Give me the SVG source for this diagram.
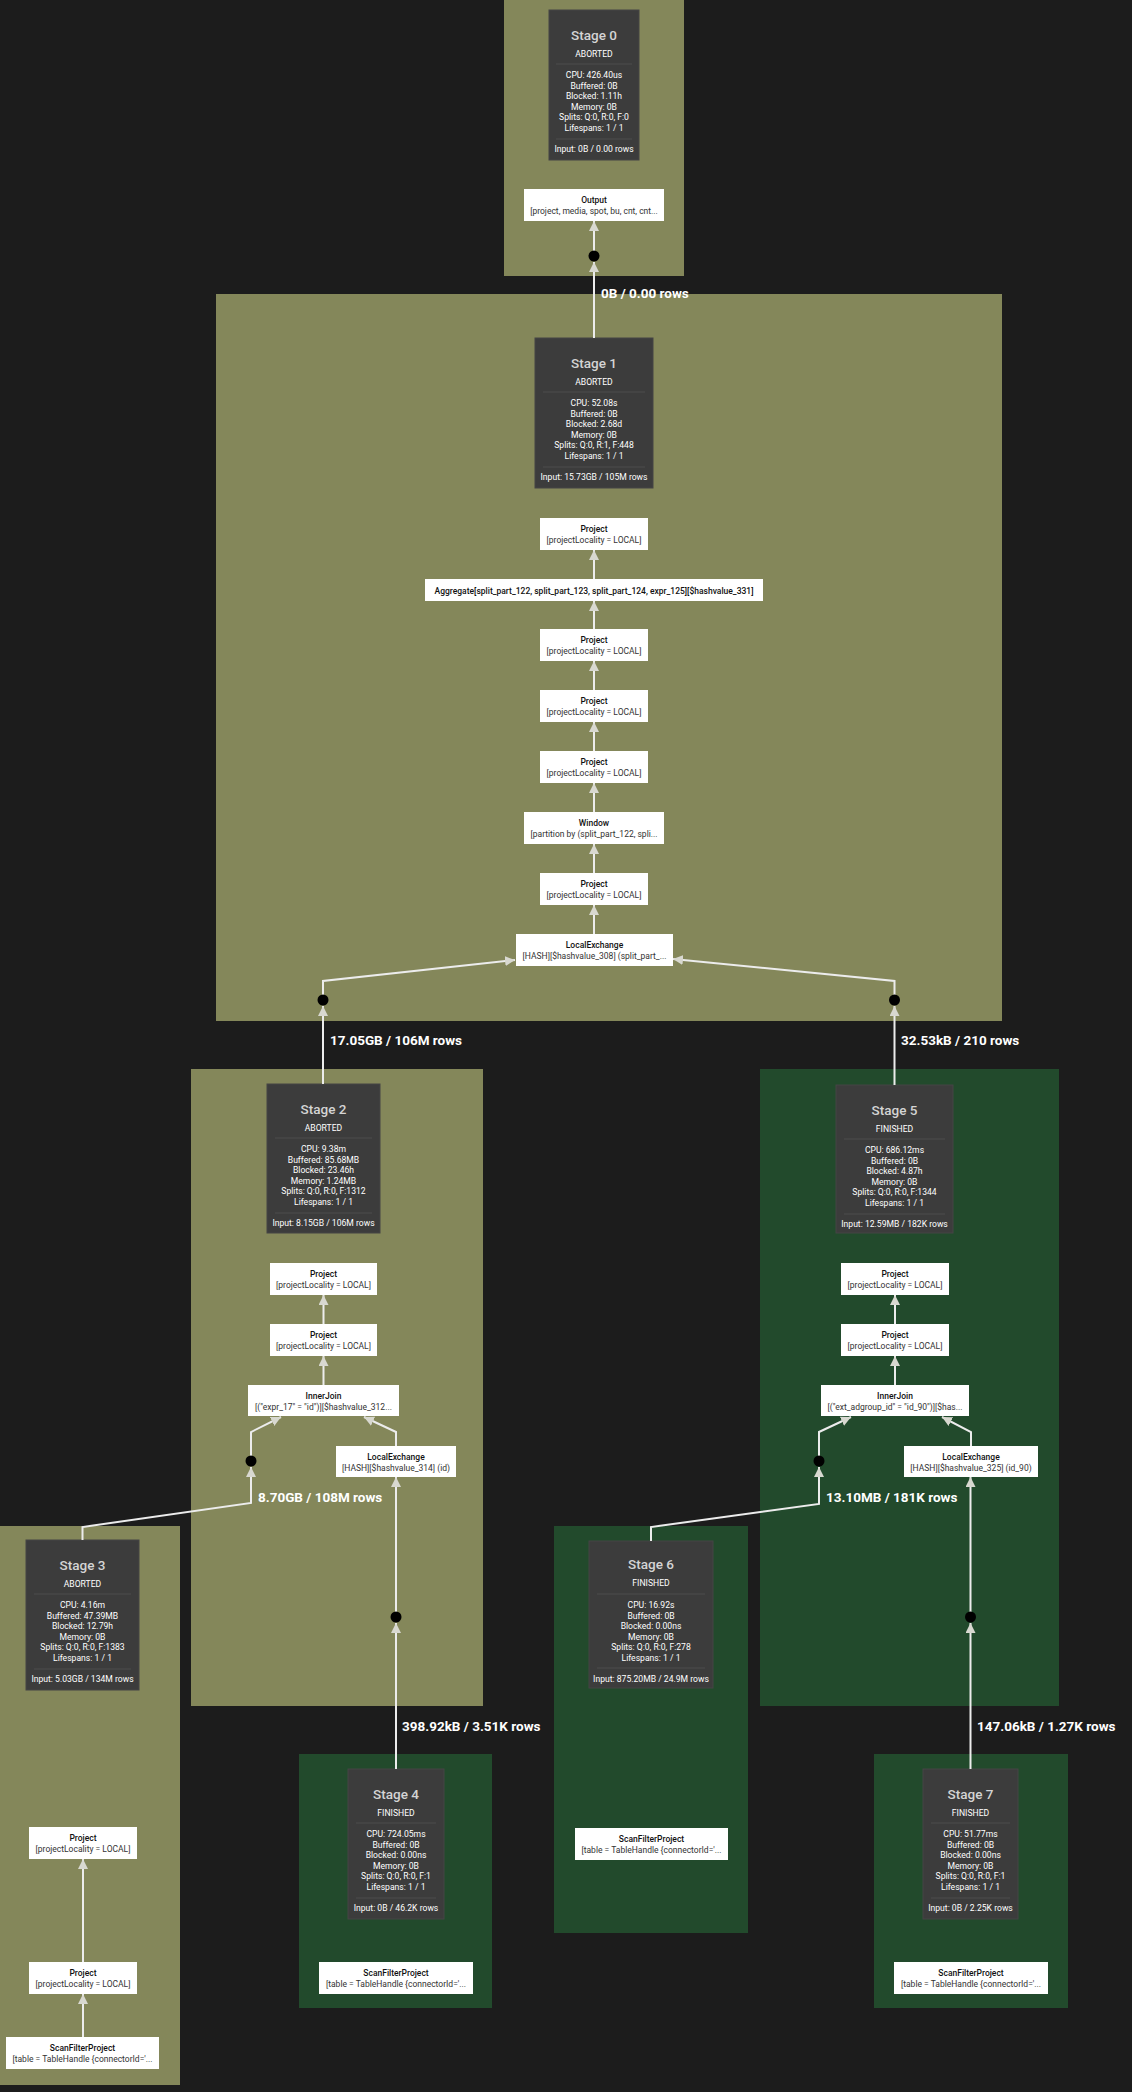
<svg xmlns="http://www.w3.org/2000/svg" width="1132" height="2092" viewBox="0 0 1132 2092">
<defs>
<style>
.bg{fill:#1c1c1c}
.ab{fill:#84875a}
.fi{fill:#224a2c}
.sb{fill:#3c3c3c;stroke:#454545;stroke-width:1}
.dv{stroke:#4c4c4c;stroke-width:1}
.st{font-family:Roboto,"Liberation Sans",sans-serif;font-size:13.5px;font-weight:500;fill:#d4d4d4;text-anchor:middle}
.ss{font-family:Roboto,"Liberation Sans",sans-serif;font-size:8.6px;fill:#ffffff;text-anchor:middle}
.nb{fill:#ffffff}
.nt{font-family:Roboto,"Liberation Sans",sans-serif;font-size:8.5px;font-weight:500;fill:#111;text-anchor:middle}
.nd{font-family:Roboto,"Liberation Sans",sans-serif;font-size:8.5px;fill:#333;text-anchor:middle}
.e{fill:none;stroke:#ececec;stroke-width:2;marker-end:url(#ah)}
.dot{fill:#000}
.el{font-family:Roboto,"Liberation Sans",sans-serif;font-size:13.5px;font-weight:700;fill:#ffffff}
</style>
<marker id="ah" viewBox="0 0 10 10" refX="10" refY="5" markerWidth="10" markerHeight="10" markerUnits="userSpaceOnUse" orient="auto">
<path d="M0,0 L10,5 L0,10 z" fill="#d8d8d0"/>
</marker>
</defs>
<rect class="bg" x="0" y="0" width="1132" height="2092"/>

<g id="stage0">
<rect class="ab" x="504" y="0" width="180" height="276"/>
<g id="stage0-box">
<rect class="sb" x="549" y="10" width="90" height="150"/>
<line class="dv" x1="556" y1="64" x2="632" y2="64"/><line class="dv" x1="556" y1="139" x2="632" y2="139"/>
<text class="st" x="594" y="40">Stage 0</text>
<text class="ss" x="594" y="57">ABORTED</text>
<text class="ss" x="594" y="78">CPU: 426.40us</text>
<text class="ss" x="594" y="88.6">Buffered: 0B</text>
<text class="ss" x="594" y="99.2">Blocked: 1.11h</text>
<text class="ss" x="594" y="109.8">Memory: 0B</text>
<text class="ss" x="594" y="120.4">Splits: Q:0, R:0, F:0</text>
<text class="ss" x="594" y="131">Lifespans: 1 / 1</text>
<text class="ss" x="594" y="152">Input: 0B / 0.00 rows</text>
</g>
<g id="s0-output"><rect class="nb" x="524" y="189" width="140" height="32"/><text class="nt" x="594" y="203">Output</text><text class="nd" x="594" y="213.5">[project, media, spot, bu, cnt, cnt...</text></g>
</g>

<g id="stage1">
<rect class="ab" x="216" y="294" width="786" height="727"/>
<g id="stage1-box">
<rect class="sb" x="535" y="338" width="118" height="150"/>
<line class="dv" x1="543" y1="392" x2="645" y2="392"/><line class="dv" x1="543" y1="467" x2="645" y2="467"/>
<text class="st" x="594" y="368">Stage 1</text>
<text class="ss" x="594" y="385">ABORTED</text>
<text class="ss" x="594" y="406">CPU: 52.08s</text>
<text class="ss" x="594" y="416.6">Buffered: 0B</text>
<text class="ss" x="594" y="427.2">Blocked: 2.68d</text>
<text class="ss" x="594" y="437.8">Memory: 0B</text>
<text class="ss" x="594" y="448.4">Splits: Q:0, R:1, F:448</text>
<text class="ss" x="594" y="459">Lifespans: 1 / 1</text>
<text class="ss" x="594" y="480">Input: 15.73GB / 105M rows</text>
</g>
<g id="s1-project1"><rect class="nb" x="540" y="518" width="108" height="32"/><text class="nt" x="594" y="532">Project</text><text class="nd" x="594" y="542.5">[projectLocality = LOCAL]</text></g>
<g id="s1-aggregate"><rect class="nb" x="425" y="579" width="338" height="22"/><text class="nt" x="594" y="593.5">Aggregate[split_part_122, split_part_123, split_part_124, expr_125][$hashvalue_331]</text></g>
<g id="s1-project2"><rect class="nb" x="540" y="629" width="108" height="32"/><text class="nt" x="594" y="643">Project</text><text class="nd" x="594" y="653.5">[projectLocality = LOCAL]</text></g>
<g id="s1-project3"><rect class="nb" x="540" y="690" width="108" height="32"/><text class="nt" x="594" y="704">Project</text><text class="nd" x="594" y="714.5">[projectLocality = LOCAL]</text></g>
<g id="s1-project4"><rect class="nb" x="540" y="751" width="108" height="32"/><text class="nt" x="594" y="765">Project</text><text class="nd" x="594" y="775.5">[projectLocality = LOCAL]</text></g>
<g id="s1-window"><rect class="nb" x="524" y="812" width="140" height="32"/><text class="nt" x="594" y="826">Window</text><text class="nd" x="594" y="836.5">[partition by (split_part_122, spli...</text></g>
<g id="s1-project5"><rect class="nb" x="540" y="873" width="108" height="32"/><text class="nt" x="594" y="887">Project</text><text class="nd" x="594" y="897.5">[projectLocality = LOCAL]</text></g>
<g id="s1-localexchange"><rect class="nb" x="516" y="934" width="157" height="32"/><text class="nt" x="594.5" y="948">LocalExchange</text><text class="nd" x="594.5" y="958.5">[HASH][$hashvalue_308] (split_part_...</text></g>
</g>

<g id="stage2">
<rect class="ab" x="191" y="1069" width="292" height="637"/>
<g id="stage2-box">
<rect class="sb" x="267" y="1084" width="113" height="149"/>
<line class="dv" x1="275" y1="1138" x2="372" y2="1138"/><line class="dv" x1="275" y1="1213" x2="372" y2="1213"/>
<text class="st" x="323.5" y="1114">Stage 2</text>
<text class="ss" x="323.5" y="1131">ABORTED</text>
<text class="ss" x="323.5" y="1152">CPU: 9.38m</text>
<text class="ss" x="323.5" y="1162.6">Buffered: 85.68MB</text>
<text class="ss" x="323.5" y="1173.2">Blocked: 23.46h</text>
<text class="ss" x="323.5" y="1183.8">Memory: 1.24MB</text>
<text class="ss" x="323.5" y="1194.4">Splits: Q:0, R:0, F:1312</text>
<text class="ss" x="323.5" y="1205">Lifespans: 1 / 1</text>
<text class="ss" x="323.5" y="1226">Input: 8.15GB / 106M rows</text>
</g>
<g id="s2-project1"><rect class="nb" x="270" y="1263" width="107" height="32"/><text class="nt" x="323.5" y="1277">Project</text><text class="nd" x="323.5" y="1287.5">[projectLocality = LOCAL]</text></g>
<g id="s2-project2"><rect class="nb" x="270" y="1324" width="107" height="32"/><text class="nt" x="323.5" y="1338">Project</text><text class="nd" x="323.5" y="1348.5">[projectLocality = LOCAL]</text></g>
<g id="s2-innerjoin"><rect class="nb" x="248" y="1385" width="151" height="31"/><text class="nt" x="323.5" y="1399">InnerJoin</text><text class="nd" x="323.5" y="1409.5">[("expr_17" = "id")][$hashvalue_312...</text></g>
<g id="s2-localexchange"><rect class="nb" x="336" y="1446" width="120" height="31"/><text class="nt" x="396" y="1460">LocalExchange</text><text class="nd" x="396" y="1470.5">[HASH][$hashvalue_314] (id)</text></g>
</g>

<g id="stage5">
<rect class="fi" x="760" y="1069" width="299" height="637"/>
<g id="stage5-box">
<rect class="sb" x="836" y="1085" width="117" height="148"/>
<line class="dv" x1="844" y1="1139" x2="945" y2="1139"/><line class="dv" x1="844" y1="1214" x2="945" y2="1214"/>
<text class="st" x="894.5" y="1115">Stage 5</text>
<text class="ss" x="894.5" y="1132">FINISHED</text>
<text class="ss" x="894.5" y="1153">CPU: 686.12ms</text>
<text class="ss" x="894.5" y="1163.6">Buffered: 0B</text>
<text class="ss" x="894.5" y="1174.2">Blocked: 4.87h</text>
<text class="ss" x="894.5" y="1184.8">Memory: 0B</text>
<text class="ss" x="894.5" y="1195.4">Splits: Q:0, R:0, F:1344</text>
<text class="ss" x="894.5" y="1206">Lifespans: 1 / 1</text>
<text class="ss" x="894.5" y="1227">Input: 12.59MB / 182K rows</text>
</g>
<g id="s5-project1"><rect class="nb" x="841" y="1263" width="108" height="32"/><text class="nt" x="895" y="1277">Project</text><text class="nd" x="895" y="1287.5">[projectLocality = LOCAL]</text></g>
<g id="s5-project2"><rect class="nb" x="841" y="1324" width="108" height="32"/><text class="nt" x="895" y="1338">Project</text><text class="nd" x="895" y="1348.5">[projectLocality = LOCAL]</text></g>
<g id="s5-innerjoin"><rect class="nb" x="821" y="1385" width="148" height="31"/><text class="nt" x="895" y="1399">InnerJoin</text><text class="nd" x="895" y="1409.5">[("ext_adgroup_id" = "id_90")][$has...</text></g>
<g id="s5-localexchange"><rect class="nb" x="904" y="1446" width="134" height="31"/><text class="nt" x="971" y="1460">LocalExchange</text><text class="nd" x="971" y="1470.5">[HASH][$hashvalue_325] (id_90)</text></g>
</g>

<g id="stage3">
<rect class="ab" x="0" y="1526" width="180" height="559"/>
<g id="stage3-box">
<rect class="sb" x="26" y="1540" width="113" height="150"/>
<line class="dv" x1="34" y1="1594" x2="131" y2="1594"/><line class="dv" x1="34" y1="1669" x2="131" y2="1669"/>
<text class="st" x="82.5" y="1570">Stage 3</text>
<text class="ss" x="82.5" y="1587">ABORTED</text>
<text class="ss" x="82.5" y="1608">CPU: 4.16m</text>
<text class="ss" x="82.5" y="1618.6">Buffered: 47.39MB</text>
<text class="ss" x="82.5" y="1629.2">Blocked: 12.79h</text>
<text class="ss" x="82.5" y="1639.8">Memory: 0B</text>
<text class="ss" x="82.5" y="1650.4">Splits: Q:0, R:0, F:1383</text>
<text class="ss" x="82.5" y="1661">Lifespans: 1 / 1</text>
<text class="ss" x="82.5" y="1682">Input: 5.03GB / 134M rows</text>
</g>
<g id="s3-project1"><rect class="nb" x="29" y="1827" width="108" height="32"/><text class="nt" x="83" y="1841">Project</text><text class="nd" x="83" y="1851.5">[projectLocality = LOCAL]</text></g>
<g id="s3-project2"><rect class="nb" x="29" y="1962" width="108" height="32"/><text class="nt" x="83" y="1976">Project</text><text class="nd" x="83" y="1986.5">[projectLocality = LOCAL]</text></g>
<g id="s3-scan"><rect class="nb" x="6" y="2037" width="153" height="32"/><text class="nt" x="82.5" y="2051">ScanFilterProject</text><text class="nd" x="82.5" y="2061.5">[table = TableHandle {connectorId='...</text></g>
</g>

<g id="stage4">
<rect class="fi" x="299" y="1754" width="193" height="254"/>
<g id="stage4-box">
<rect class="sb" x="348" y="1769" width="96" height="150"/>
<line class="dv" x1="356" y1="1823" x2="436" y2="1823"/><line class="dv" x1="356" y1="1898" x2="436" y2="1898"/>
<text class="st" x="396" y="1799">Stage 4</text>
<text class="ss" x="396" y="1816">FINISHED</text>
<text class="ss" x="396" y="1837">CPU: 724.05ms</text>
<text class="ss" x="396" y="1847.6">Buffered: 0B</text>
<text class="ss" x="396" y="1858.2">Blocked: 0.00ns</text>
<text class="ss" x="396" y="1868.8">Memory: 0B</text>
<text class="ss" x="396" y="1879.4">Splits: Q:0, R:0, F:1</text>
<text class="ss" x="396" y="1890">Lifespans: 1 / 1</text>
<text class="ss" x="396" y="1911">Input: 0B / 46.2K rows</text>
</g>
<g id="s4-scan"><rect class="nb" x="319" y="1962" width="154" height="32"/><text class="nt" x="396" y="1976">ScanFilterProject</text><text class="nd" x="396" y="1986.5">[table = TableHandle {connectorId='...</text></g>
</g>

<g id="stage6">
<rect class="fi" x="554" y="1526" width="194" height="407"/>
<g id="stage6-box">
<rect class="sb" x="589" y="1541" width="124" height="147"/>
<line class="dv" x1="597" y1="1594" x2="705" y2="1594"/><line class="dv" x1="597" y1="1668" x2="705" y2="1668"/>
<text class="st" x="651" y="1569">Stage 6</text>
<text class="ss" x="651" y="1586">FINISHED</text>
<text class="ss" x="651" y="1608">CPU: 16.92s</text>
<text class="ss" x="651" y="1618.6">Buffered: 0B</text>
<text class="ss" x="651" y="1629.2">Blocked: 0.00ns</text>
<text class="ss" x="651" y="1639.8">Memory: 0B</text>
<text class="ss" x="651" y="1650.4">Splits: Q:0, R:0, F:278</text>
<text class="ss" x="651" y="1661">Lifespans: 1 / 1</text>
<text class="ss" x="651" y="1682">Input: 875.20MB / 24.9M rows</text>
</g>
<g id="s6-scan"><rect class="nb" x="575" y="1828" width="153" height="32"/><text class="nt" x="651.5" y="1842">ScanFilterProject</text><text class="nd" x="651.5" y="1852.5">[table = TableHandle {connectorId='...</text></g>
</g>

<g id="stage7">
<rect class="fi" x="874" y="1754" width="194" height="254"/>
<g id="stage7-box">
<rect class="sb" x="923" y="1769" width="95" height="150"/>
<line class="dv" x1="931" y1="1823" x2="1010" y2="1823"/><line class="dv" x1="931" y1="1898" x2="1010" y2="1898"/>
<text class="st" x="970.5" y="1799">Stage 7</text>
<text class="ss" x="970.5" y="1816">FINISHED</text>
<text class="ss" x="970.5" y="1837">CPU: 51.77ms</text>
<text class="ss" x="970.5" y="1847.6">Buffered: 0B</text>
<text class="ss" x="970.5" y="1858.2">Blocked: 0.00ns</text>
<text class="ss" x="970.5" y="1868.8">Memory: 0B</text>
<text class="ss" x="970.5" y="1879.4">Splits: Q:0, R:0, F:1</text>
<text class="ss" x="970.5" y="1890">Lifespans: 1 / 1</text>
<text class="ss" x="970.5" y="1911">Input: 0B / 2.25K rows</text>
</g>
<g id="s7-scan"><rect class="nb" x="894" y="1962" width="154" height="32"/><text class="nt" x="971" y="1976">ScanFilterProject</text><text class="nd" x="971" y="1986.5">[table = TableHandle {connectorId='...</text></g>
</g>

<g id="connectors">
<!-- stage 1 -> stage 0 -->
<path class="e" d="M594,338 V262"/>
<path class="e" d="M594,256 V221"/>
<circle class="dot" cx="594" cy="256" r="5.5"/>
<text class="el" x="601" y="298">0B / 0.00 rows</text>
<!-- stage 1 internal -->
<path class="e" d="M594,579 V550"/>
<path class="e" d="M594,629 V601"/>
<path class="e" d="M594,690 V661"/>
<path class="e" d="M594,751 V722"/>
<path class="e" d="M594,812 V783"/>
<path class="e" d="M594,873 V844"/>
<path class="e" d="M594,934 V905"/>
<!-- stage 2 -> stage 1 -->
<path class="e" d="M323,1084 V1006"/>
<path class="e" d="M323,1000 V981 L515,960"/>
<circle class="dot" cx="323" cy="1000" r="5.5"/>
<text class="el" x="330" y="1045">17.05GB / 106M rows</text>
<!-- stage 5 -> stage 1 -->
<path class="e" d="M894.5,1085 V1006"/>
<path class="e" d="M894.5,1000 V981 L673,959"/>
<circle class="dot" cx="894.5" cy="1000" r="5.5"/>
<text class="el" x="901" y="1045">32.53kB / 210 rows</text>
<!-- stage 2 internal -->
<path class="e" d="M323.5,1324 V1295"/>
<path class="e" d="M323.5,1385 V1356"/>
<path class="e" d="M396,1446 V1432 L364,1417"/>
<path class="e" d="M251,1461 V1432 L281,1417"/>
<!-- stage 3 -> stage 2 -->
<path class="e" d="M82.5,1540 V1527 L251,1503 V1467"/>
<circle class="dot" cx="251" cy="1461" r="5.5"/>
<text class="el" x="258" y="1502">8.70GB / 108M rows</text>
<!-- stage 3 internal -->
<path class="e" d="M83,1962 V1859"/>
<path class="e" d="M83,2037 V1994"/>
<!-- stage 4 -> stage 2 -->
<path class="e" d="M396,1769 V1623"/>
<path class="e" d="M396,1617 V1477"/>
<circle class="dot" cx="396" cy="1617" r="5.5"/>
<text class="el" x="402" y="1731">398.92kB / 3.51K rows</text>
<!-- stage 5 internal -->
<path class="e" d="M895,1324 V1295"/>
<path class="e" d="M895,1385 V1356"/>
<path class="e" d="M971,1446 V1432 L942,1417"/>
<path class="e" d="M819,1461 V1432 L851,1417"/>
<!-- stage 6 -> stage 5 -->
<path class="e" d="M651,1541 V1527 L819,1504 V1467"/>
<circle class="dot" cx="819" cy="1461" r="5.5"/>
<text class="el" x="826" y="1502">13.10MB / 181K rows</text>
<!-- stage 7 -> stage 5 -->
<path class="e" d="M970.5,1769 V1623"/>
<path class="e" d="M970.5,1617 V1477"/>
<circle class="dot" cx="970.5" cy="1617" r="5.5"/>
<text class="el" x="977" y="1731">147.06kB / 1.27K rows</text>
</g>
</svg>
